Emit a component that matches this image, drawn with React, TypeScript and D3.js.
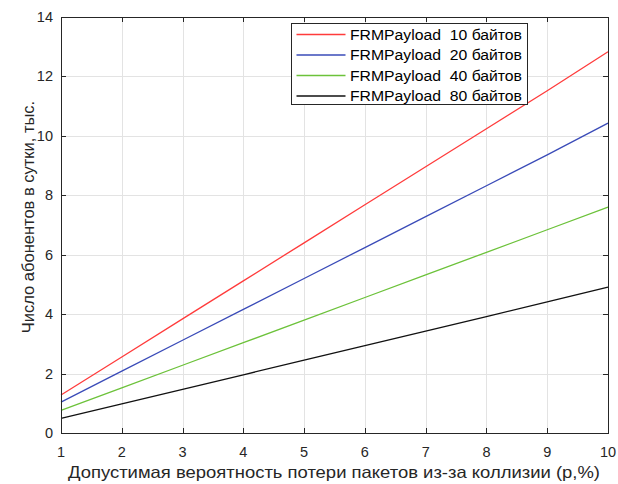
import * as d3 from "d3";
import { useRef, useEffect } from "react";

// допустимая вероятность потери пакетов, %
const pValues = [1, 2, 3, 4, 5, 6, 7, 8, 9, 10];

// число абонентов в сутки, тыс.
const payload10 = [1.28, 2.56, 3.84, 5.12, 6.4, 7.68, 8.96, 10.24, 11.52, 12.83];
const payload20 = [1.04, 2.08, 3.12, 4.16, 5.2, 6.24, 7.28, 8.32, 9.36, 10.43];
const payload40 = [0.76, 1.52, 2.28, 3.04, 3.8, 4.56, 5.32, 6.08, 6.84, 7.6];
const payload80 = [0.49, 0.98, 1.47, 1.96, 2.45, 2.94, 3.43, 3.92, 4.41, 4.91];

const seriesNames = [
  "FRMPayload  10 байтов",
  "FRMPayload  20 байтов",
  "FRMPayload  40 байтов",
  "FRMPayload  80 байтов",
];
const seriesColors = ["#ff3b3b", "#3a4bb8", "#6cc23a", "#111111"];

const xTicks = [1, 2, 3, 4, 5, 6, 7, 8, 9, 10];
const yTicks = [0, 2, 4, 6, 8, 10, 12, 14];

const App = () => {
  const chartRef = useRef<SVGSVGElement>(null);

  const width = 618;
  const height = 484;
  const margin = { top: 17, right: 10, bottom: 51, left: 61 };

  useEffect(() => {
    const svg = d3.select(chartRef.current);
    svg.selectAll("*").remove();

    const x = d3.scaleLinear().domain([1, 10]).range([margin.left, width - margin.right]);
    const y = d3.scaleLinear().domain([0, 14]).range([height - margin.bottom, margin.top]);

    const axisColor = "#262626";
    const font = "Arial, 'Liberation Sans', sans-serif";

    svg.append("rect").attr("width", width).attr("height", height).attr("fill", "#fff");

    // сетка
    const grid = svg.append("g").attr("stroke", "#e3e3e3").attr("stroke-width", 1);
    xTicks.forEach((t) => {
      grid.append("line")
        .attr("x1", Math.round(x(t)) + 0.5).attr("x2", Math.round(x(t)) + 0.5)
        .attr("y1", y(14)).attr("y2", y(0));
    });
    yTicks.forEach((t) => {
      grid.append("line")
        .attr("x1", x(1)).attr("x2", x(10))
        .attr("y1", Math.round(y(t)) + 0.5).attr("y2", Math.round(y(t)) + 0.5);
    });

    // линии
    const data = [payload10, payload20, payload40, payload80];
    const line = d3.line<number>()
      .x((_, i) => x(pValues[i]))
      .y((d) => y(d));
    data.forEach((s, i) => {
      svg.append("path")
        .datum(s)
        .attr("d", line)
        .attr("fill", "none")
        .attr("stroke", seriesColors[i])
        .attr("stroke-width", 1.3);
    });

    // оси
    const ax = svg.append("g").attr("stroke", axisColor).attr("stroke-width", 1);
    ax.append("rect")
      .attr("x", x(1) + 0.5).attr("y", y(14) + 0.5)
      .attr("width", x(10) - x(1)).attr("height", y(0) - y(14))
      .attr("fill", "none");
    const tl = 5;
    xTicks.forEach((t) => {
      const xx = Math.round(x(t)) + 0.5;
      ax.append("line").attr("x1", xx).attr("x2", xx).attr("y1", y(0)).attr("y2", y(0) - tl);
      ax.append("line").attr("x1", xx).attr("x2", xx).attr("y1", y(14)).attr("y2", y(14) + tl);
    });
    yTicks.forEach((t) => {
      const yy = Math.round(y(t)) + 0.5;
      ax.append("line").attr("x1", x(1)).attr("x2", x(1) + tl).attr("y1", yy).attr("y2", yy);
      ax.append("line").attr("x1", x(10)).attr("x2", x(10) - tl).attr("y1", yy).attr("y2", yy);
    });

    svg.append("g")
      .selectAll("text")
      .data(xTicks)
      .enter()
      .append("text")
      .attr("x", (d) => x(d))
      .attr("y", y(0) + 24)
      .attr("text-anchor", "middle")
      .attr("font-family", font)
      .attr("font-size", 14.5)
      .attr("fill", axisColor)
      .text((d) => d);

    svg.append("g")
      .selectAll("text")
      .data(yTicks)
      .enter()
      .append("text")
      .attr("x", x(1) - 8)
      .attr("y", (d) => y(d) + 5)
      .attr("text-anchor", "end")
      .attr("font-family", font)
      .attr("font-size", 14.5)
      .attr("fill", axisColor)
      .text((d) => d);

    svg.append("text")
      .attr("x", 68)
      .attr("y", 478)
      .attr("font-family", font)
      .attr("font-size", 16.5)
      .attr("fill", axisColor)
      .attr("textLength", 532)
      .attr("lengthAdjust", "spacingAndGlyphs")
      .text("Допустимая вероятность потери пакетов из-за коллизии (p,%)");

    svg.append("text")
      .attr("transform", `translate(34, 217) rotate(-90)`)
      .attr("text-anchor", "middle")
      .attr("font-family", font)
      .attr("font-size", 16.5)
      .attr("fill", axisColor)
      .text("Число абонентов в сутки, тыс.");

    // легенда
    const lg = svg.append("g").attr("transform", "translate(291.5, 23.5)");
    lg.append("rect")
      .attr("width", 236).attr("height", 81)
      .attr("fill", "#fff").attr("stroke", axisColor).attr("stroke-width", 1);
    seriesNames.forEach((name, i) => {
      const yy = 11 + i * 20.5;
      lg.append("line")
        .attr("x1", 5).attr("x2", 54).attr("y1", yy).attr("y2", yy)
        .attr("stroke", seriesColors[i]).attr("stroke-width", 1.3);
      lg.append("text")
        .attr("x", 58.5).attr("y", yy + 5)
        .attr("font-family", font)
        .attr("font-size", 14)
        .attr("fill", "#000")
        .attr("textLength", 172)
        .attr("lengthAdjust", "spacingAndGlyphs")
        .style("white-space", "pre")
        .text(name);
    });
  }, []);

  return (
    <svg
      ref={chartRef}
      width={width}
      height={height}
      style={{ display: "block", position: "fixed", left: 0, top: 0 }}
    />
  );
};

export default App;
